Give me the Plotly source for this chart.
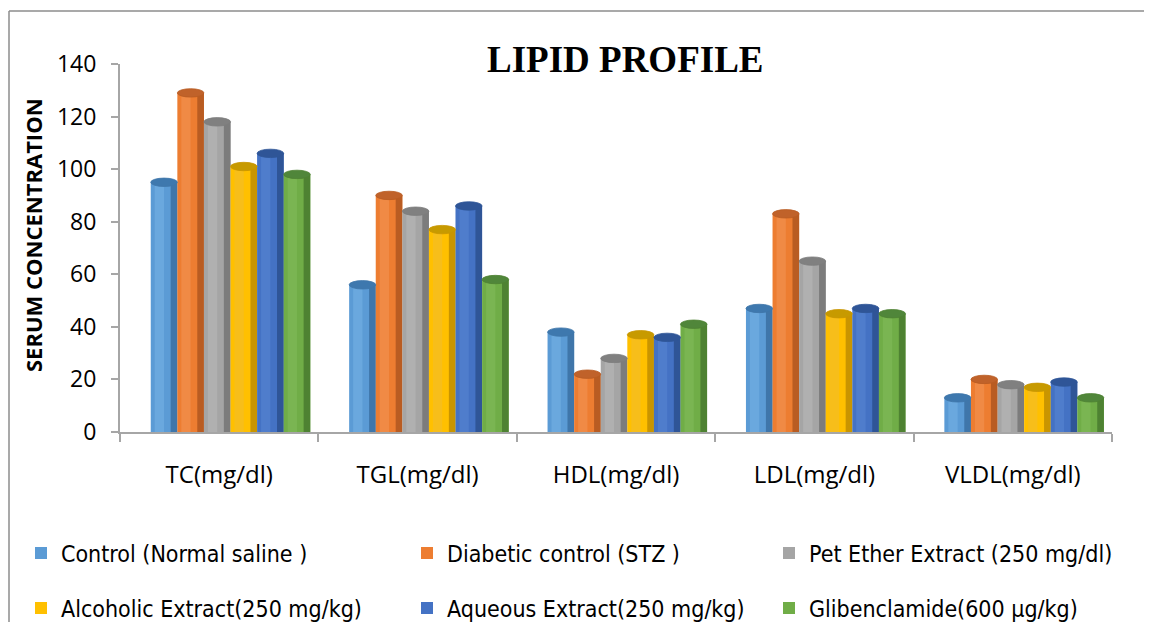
import plotly.graph_objects as go

categories = ["TC(mg/dl)", "TGL(mg/dl)", "HDL(mg/dl)", "LDL(mg/dl)", "VLDL(mg/dl)"]
series_names = [
    "Control (Normal saline )",
    "Diabetic control (STZ )",
    "Pet Ether Extract (250 mg/dl)",
    "Alcoholic Extract(250 mg/kg)",
    "Aqueous Extract(250 mg/kg)",
    "Glibenclamide(600 µg/kg)",
]
control = [95, 56, 38, 47, 13]
diabetic = [129, 90, 22, 83, 20]
pet_ether = [118, 84, 28, 65, 18]
alcoholic = [101, 77, 37, 45, 17]
aqueous = [106, 86, 36, 47, 19]
glibenclamide = [98, 58, 41, 45, 13]
series_values = [control, diabetic, pet_ether, alcoholic, aqueous, glibenclamide]
y_ticks = [0, 20, 40, 60, 80, 100, 120, 140]

base_colors = ["#5B9BD5", "#ED7D31", "#A5A5A5", "#FFC000", "#4472C4", "#70AD47"]
light_colors = ["#6AA8DE", "#F08A45", "#B0B0B0", "#F7BE1A", "#4F7DCC", "#7AB552"]
dark_colors = ["#3F76AA", "#B95C22", "#7C7C7C", "#C99500", "#2F5597", "#4E8232"]
cap_colors = ["#3E78AE", "#C0622A", "#808080", "#C79A00", "#2F5597", "#50863A"]

FONT = "Open Sans, Lato, sans-serif"
NARROW = "Liberation Sans Narrow, DejaVu Sans Condensed, Arial Narrow, sans-serif"

group_start = -0.345
bar_w = 0.134
cap_h = 1.6

# page layout (the page body adds an 8px margin on every side)
PAGE_OFF = 8
FIG_W, FIG_H = 1152 - 2 * PAGE_OFF, 630 - 2 * PAGE_OFF
PLOT_L, PLOT_R, PLOT_T, PLOT_B = 120, 1112, 64, 432  # in page pixels


def px(xp):
    return (xp - PLOT_L) / (PLOT_R - PLOT_L)


def py(yp):
    return (PLOT_B - yp) / (PLOT_B - PLOT_T)


legend_names = ["legend", "legend2", "legend3", "legend4", "legend5", "legend6"]
legend_text_x = [62, 448, 810]
legend_row_y = [553, 608]

fig = go.Figure()
shapes = []
for i, (name, vals) in enumerate(zip(series_names, series_values)):
    off = group_start + i * bar_w
    fig.add_trace(go.Bar(
        x=categories, y=vals, name=name, offset=off, width=bar_w,
        marker=dict(color=base_colors[i], line=dict(width=0)),
        legend=legend_names[i],
    ))
    # cylinder shading strips
    fig.add_trace(go.Bar(
        x=categories, y=vals, offset=off + bar_w * 0.15, width=bar_w * 0.35,
        marker=dict(color=light_colors[i], line=dict(width=0)), showlegend=False, hoverinfo="skip",
    ))
    fig.add_trace(go.Bar(
        x=categories, y=vals, offset=off + bar_w * 0.75, width=bar_w * 0.25,
        marker=dict(color=dark_colors[i], line=dict(width=0)), showlegend=False, hoverinfo="skip",
    ))
    for c, v in enumerate(vals):
        shapes.append(dict(
            type="circle", xref="x", yref="y",
            x0=c + off, x1=c + off + bar_w, y0=v - cap_h, y1=v + cap_h,
            fillcolor=cap_colors[i], line=dict(width=0.8, color=dark_colors[i]), layer="above",
        ))

# outer border of the chart area (left and top edges only)
shapes.append(dict(type="line", xref="paper", yref="paper",
                   x0=px(9), x1=px(9), y0=py(640), y1=py(11),
                   line=dict(color="#8C8C8C", width=1.5), layer="below"))
shapes.append(dict(type="line", xref="paper", yref="paper",
                   x0=px(9), x1=px(1160), y0=py(11), y1=py(11),
                   line=dict(color="#8C8C8C", width=1.5), layer="below"))

legends = {}
for i, ln in enumerate(legend_names):
    col, row = i % 3, i // 3
    legends[ln] = dict(
        orientation="h", x=px(legend_text_x[col] - 41), y=py(legend_row_y[row]),
        xanchor="left", yanchor="middle",
        font=dict(family=NARROW, size=23, color="black"),
        itemwidth=30, bgcolor="rgba(0,0,0,0)",
    )

fig.update_layout(
    width=FIG_W, height=FIG_H,
    margin=dict(l=PLOT_L - PAGE_OFF, r=FIG_W - (PLOT_R - PAGE_OFF), t=PLOT_T - PAGE_OFF,
                b=FIG_H - (PLOT_B - PAGE_OFF), autoexpand=False),
    paper_bgcolor="white", plot_bgcolor="white",
    barmode="overlay",
    showlegend=True,
    shapes=shapes,
    font=dict(family=FONT, size=20, color="black"),
    xaxis=dict(
        type="category", showgrid=False, showline=True, linecolor="#A6A6A6", linewidth=2,
        ticks="outside", tickson="boundaries", ticklen=8, tickcolor="#A6A6A6", tickwidth=2,
        tickfont=dict(family=FONT, size=24, color="black"), ticklabelstandoff=20,
        range=[-0.5, 4.5],
    ),
    yaxis=dict(
        range=[0, 140], tickvals=y_ticks, showgrid=False, showline=True,
        linecolor="#A6A6A6", linewidth=2, ticks="outside", ticklen=7, tickcolor="#A6A6A6", tickwidth=2,
        tickfont=dict(family=FONT, size=23, color="black"), ticklabelstandoff=10,
        zeroline=False,
    ),
    annotations=[
        dict(text="<b>LIPID PROFILE</b>", xref="paper", yref="paper",
             x=px(625), y=py(60), xanchor="center", yanchor="middle",
             showarrow=False, font=dict(family="Liberation Serif, Times New Roman, serif", size=37, color="black")),
        dict(text="<b>SERUM CONCENTRATION</b>", xref="paper", yref="paper",
             x=px(33), y=py(235), xanchor="center", yanchor="middle",
             textangle=-90, showarrow=False,
             font=dict(family=FONT, size=22, color="black")),
    ],
    **legends,
)

fig.write_html("out.html")
